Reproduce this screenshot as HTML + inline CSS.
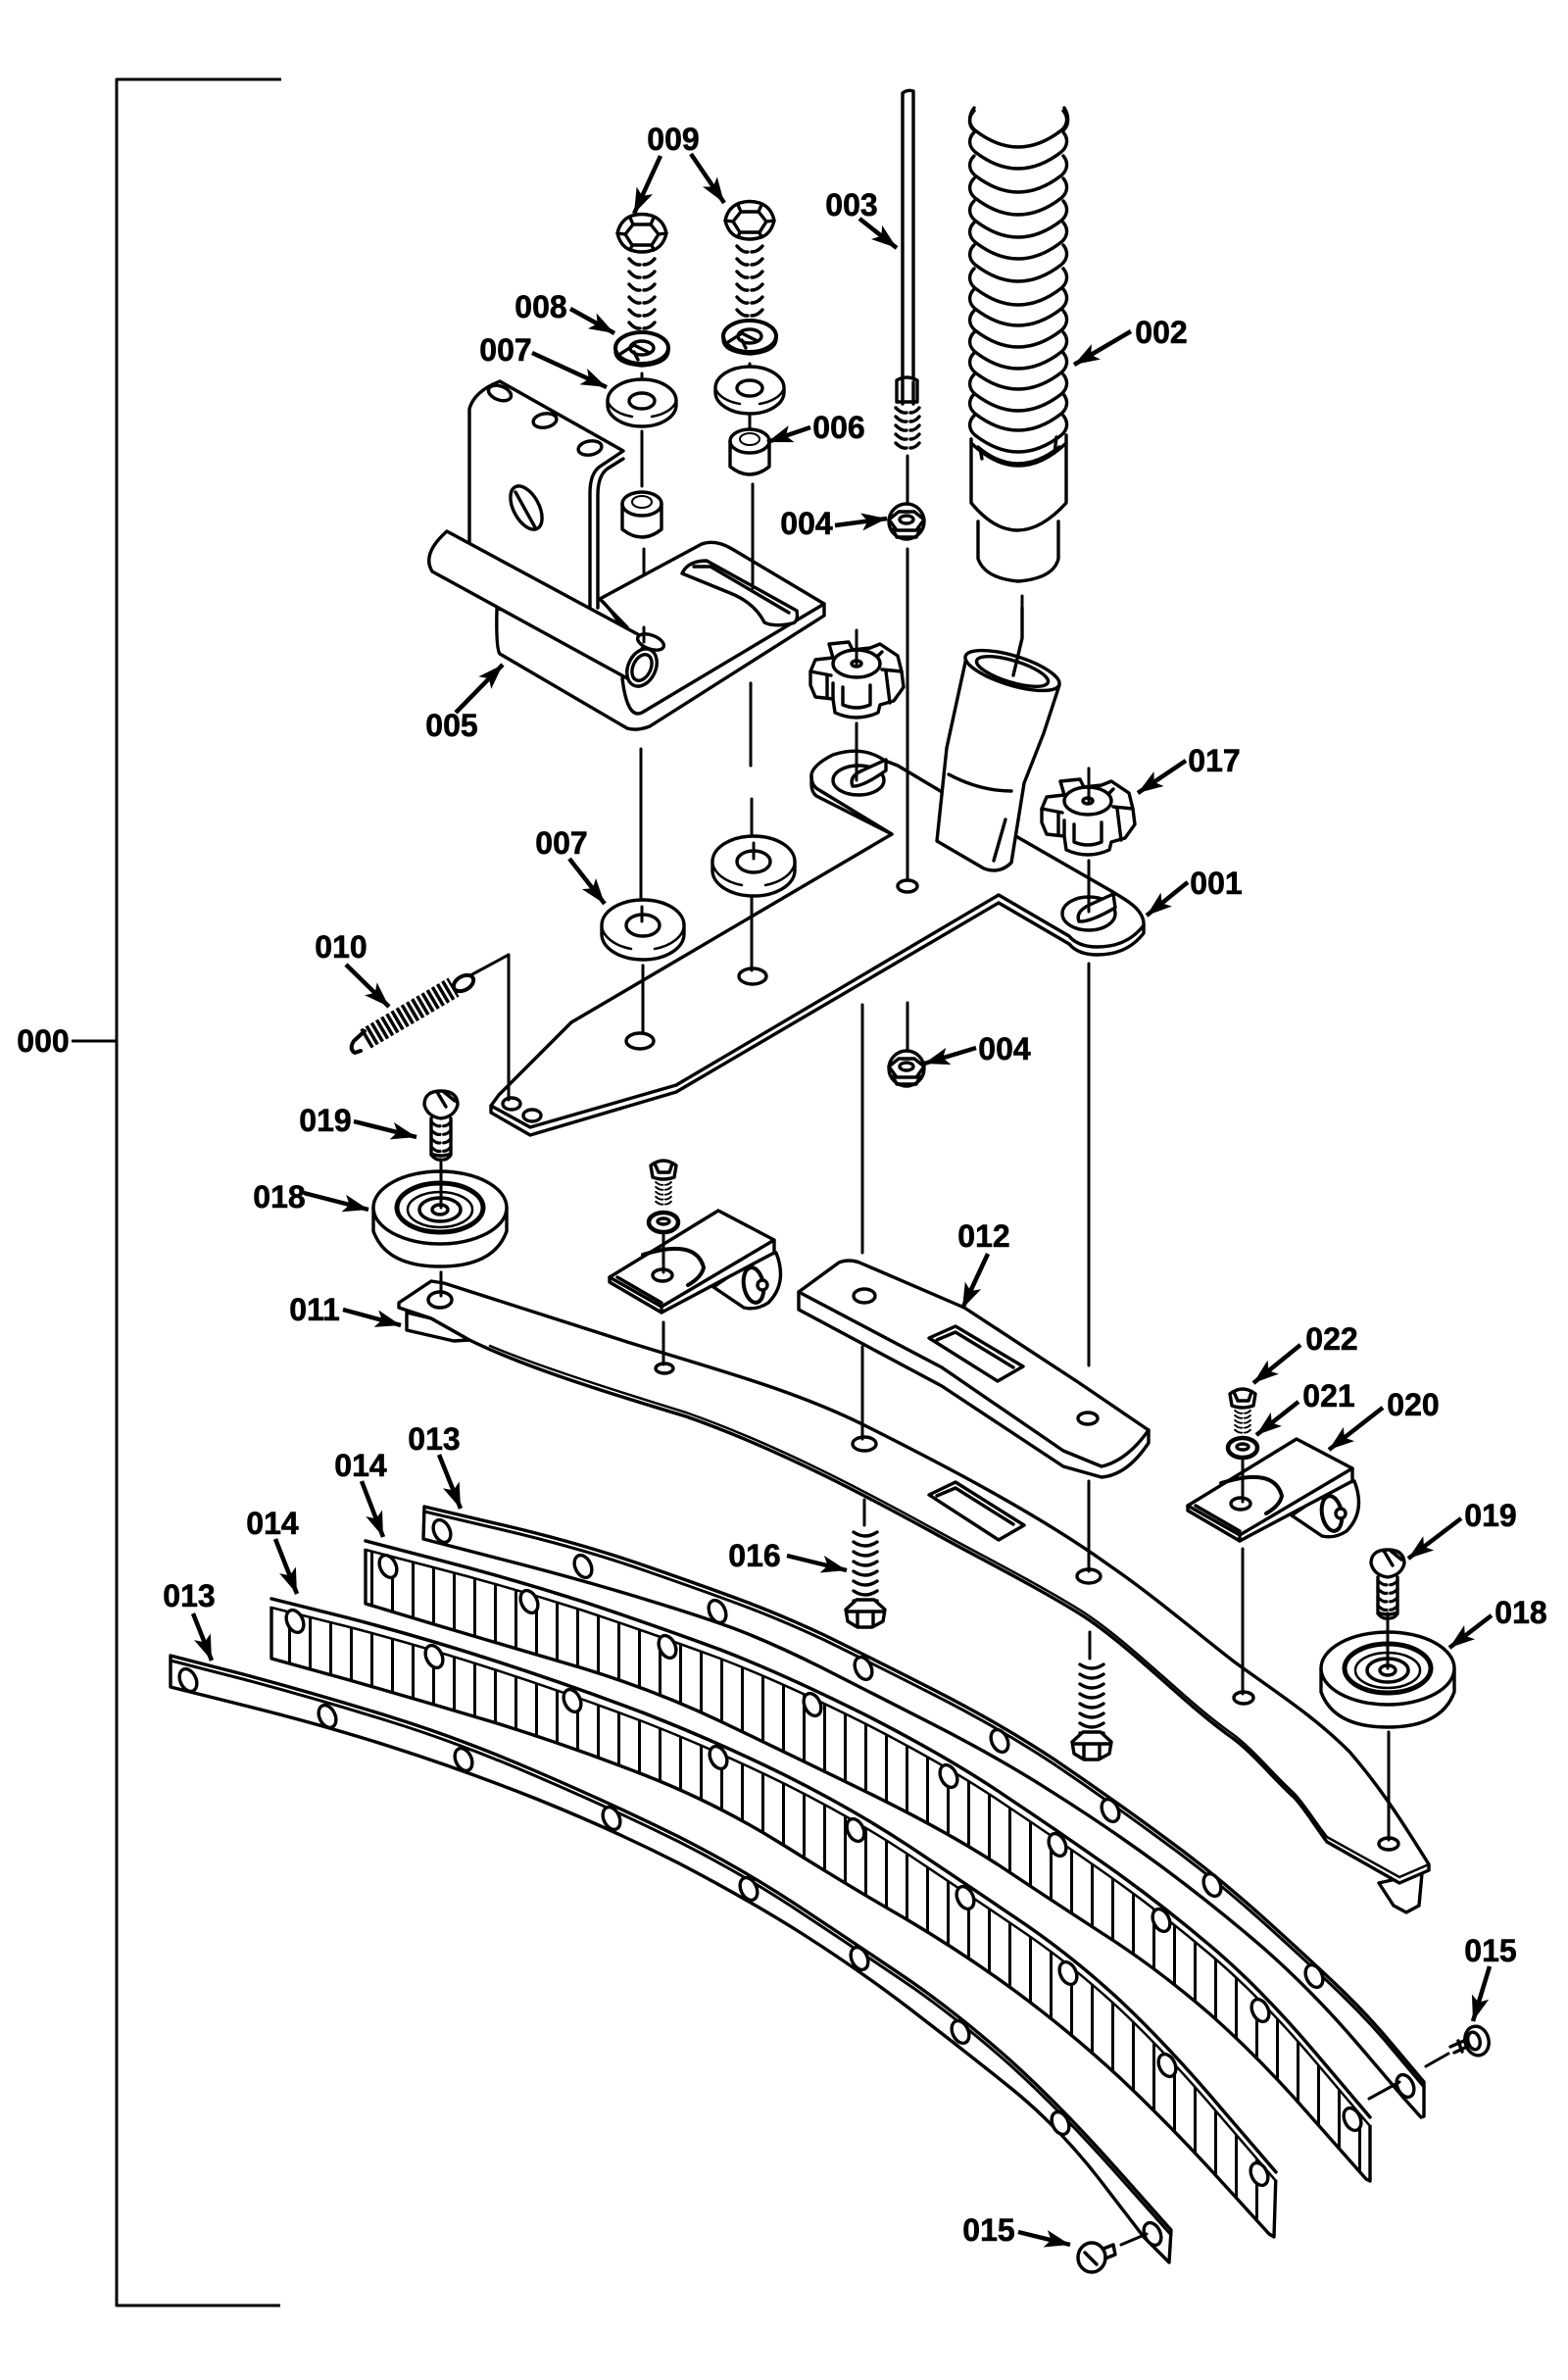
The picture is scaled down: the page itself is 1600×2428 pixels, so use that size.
<!DOCTYPE html>
<html><head><meta charset="utf-8"><style>
html,body{margin:0;padding:0;background:#fff}
svg{display:block}
text{font-family:"Liberation Sans",sans-serif;font-weight:bold;font-size:32px;fill:#000;stroke:#000;stroke-width:.6px;text-anchor:middle}
</style></head><body>
<svg width="1600" height="2428" viewBox="0 0 1600 2428" xmlns="http://www.w3.org/2000/svg">
<defs>
<marker id="ah" markerUnits="userSpaceOnUse" markerWidth="30" markerHeight="20" refX="26" refY="10" orient="auto"><path d="M0,1 L26,10 L0,19 L6,10Z" fill="#000"/></marker>
<pattern id="ribs" width="21" height="20" patternUnits="userSpaceOnUse"><rect width="21" height="20" fill="#fff"/><rect x="0" width="3" height="20" fill="#000"/></pattern>
<path id="rib" d="M994,0 C988,6 988,14 995,20 Q1039,54 1083,20 C1090,14 1090,6 1085,0"/>
<path id="Atop" d="M433,1537 L514,1556 Q595,1575 663,1599 Q732,1623 766,1636 Q800,1649 841,1668 Q882,1688 951,1723 Q1020,1758 1076,1795 Q1132,1833 1185,1872 Q1239,1911 1290,1957 Q1341,2003 1370,2031 Q1400,2060 1426,2092 L1453,2124"/>
<path id="B1top" d="M373,1572 L446,1591 Q520,1610 595,1634 Q670,1659 735,1683 Q800,1708 884,1750 Q968,1793 1024,1831 Q1081,1869 1132,1905 Q1183,1941 1235,1985 Q1287,2029 1342,2094 L1398,2160"/>
<path id="B2top" d="M277,1631 L353,1650 Q430,1670 507,1695 Q584,1720 658,1748 Q732,1777 801,1811 Q871,1846 927,1883 Q984,1921 1037,1957 Q1091,1993 1142,2040 Q1193,2088 1247,2152 L1302,2216"/>
<path id="Ctop" d="M174,1689 L248,1708 Q323,1728 397,1751 Q471,1774 547,1807 Q624,1840 693,1874 Q762,1909 823,1950 Q885,1991 932,2023 Q979,2056 1030,2101 Q1081,2147 1138,2211 L1195,2275"/>
<path id="th5" d="M-12,0 q6,6 11,5 m4,0 q5,0 9,-5 m-24,9 q6,6 11,5 m4,0 q5,0 9,-5 m-24,9 q6,6 11,5 m4,0 q5,0 9,-5 m-24,9 q6,6 11,5 m4,0 q5,0 9,-5 m-24,9 q6,6 11,5 m4,0 q5,0 9,-5"/>
<path id="thB" d="M-13,0 q6,7 11,6 m4,0 q6,0 11,-6 m-26,13 q6,7 11,6 m4,0 q6,0 11,-6 m-26,13 q6,7 11,6 m4,0 q6,0 11,-6 m-26,13 q6,7 11,6 m4,0 q6,0 11,-6 m-26,13 q6,7 11,6 m4,0 q6,0 11,-6 m-26,13 q6,7 11,6 m4,0 q6,0 11,-6"/>
<path id="th8" d="M-12,0 q12,8 24,0 m-24,10 q12,8 24,0 m-24,10 q12,8 24,0 m-24,10 q12,8 24,0 m-24,10 q12,8 24,0 m-24,10 q12,8 24,0 m-24,10 q12,8 24,0 m-24,10 q12,8 24,0"/>
<g id="bolt"><path d="M-25,0 Q-22,-14 -10,-18 Q0,-21 10,-18 Q22,-14 25,0 Q22,12 14,16 Q0,22 -14,16 Q-22,12 -25,0Z" fill="#fff"/><path d="M-17,1 L-9,-9 L9,-9 L17,1 L10,12 L-10,12Z M-25,0 L-17,1 M25,0 L17,1 M-9,-9 L-12,-16 M9,-9 L12,-16 M-10,12 L-12,17 M10,12 L12,17" fill="none"/><use href="#thB" y="26"/></g>
<g id="lock"><ellipse rx="27" ry="16" fill="#fff" stroke-width="4"/><path d="M-27,4 Q-26,16 0,18 Q26,16 27,3" fill="none"/><ellipse rx="12" ry="7" fill="#fff"/><path d="M-22,6 L-8,-3 L8,5 M-4,12 L-8,4" fill="none"/></g>
<g id="wash"><path d="M-35,0 L-35,4 A35,22 0 0 0 35,4 L35,0 A35,22 0 0 0 -35,0Z" fill="#fff"/><path d="M-35,0 A35,20 0 0 0 -10,16 M10,16 A35,20 0 0 0 35,0" fill="none" stroke-width="2.5"/><ellipse rx="13" ry="8" fill="#fff"/></g>
<g id="washL"><path d="M-42,-3 L-42,6 A42,26 0 0 0 42,6 L42,-3 A42,26 0 0 0 -42,-3Z" fill="#fff"/><path d="M-42,-3 A42,26 0 0 0 -12,21 M12,21 A42,26 0 0 0 42,-3" fill="none" stroke-width="2.5"/><ellipse cy="-3" rx="17" ry="11" fill="#fff"/></g>
<g id="bush"><path d="M-20,0 L-20,26 Q0,42 20,26 L20,0 A20,12 0 0 0 -20,0Z" fill="#fff"/><path d="M-20,0 A20,12 0 0 0 20,0" fill="none"/><ellipse cy="-2" rx="10" ry="6" fill="none" stroke-width="2"/></g>
<g id="nut"><circle r="18" fill="#fff"/><path d="M-18,-2 L-8,-10 L8,-10 L18,-2 L10,9 L-10,9Z M-14,8 L-10,16 L10,16 L14,8" fill="none"/><ellipse cy="-2" rx="7" ry="4" fill="none"/></g>
<g id="knob"><path d="M-47,8 L-42,-4 L-24,-6 L-28,-20 L-8,-22 L-4,-14 L14,-16 L24,-20 L42,-8 L46,8 L48,24 L38,38 L24,42 L22,50 Q0,60 -22,50 L-24,36 L-42,34 L-47,22Z" fill="#fff"/><path d="M-47,8 L-26,12 M-30,12 V34 M-24,20 V36 M-14,24 V42 Q0,48 14,42 V22 M26,6 L46,8 M30,8 L34,40 M26,-12 L20,-6" fill="none"/><ellipse rx="24" ry="14" fill="#fff"/><ellipse rx="5" ry="3" fill="#fff"/></g>
<g id="pul"><path d="M-68,0 L-68,24 Q-55,60 0,60 Q55,60 68,24 L68,0Z" fill="#fff"/><ellipse rx="68" ry="37" fill="#fff"/><ellipse rx="44" ry="25" fill="#fff" stroke-width="5"/><ellipse cy="2" rx="33" ry="18" fill="none" stroke-width="2.5"/><ellipse cy="2" rx="21" ry="12" fill="none" stroke-width="3.5"/><ellipse cy="2" rx="8" ry="5" fill="#fff"/></g>
<g id="scr"><path d="M-17,0 Q-17,-14 0,-14 Q17,-14 17,0 Q14,12 0,14 Q-14,12 -17,0Z" fill="#fff"/><path d="M-4,-13 L5,2 M3,-13 L14,-4" fill="none"/><use href="#th5" transform="translate(0,17) scale(.85,.95)"/><path d="M-10,14 L-10,50 Q0,54 10,50 L10,14" fill="none"/></g>
<g id="brk"><path d="M106,10 L137,31 Q150,34 162,26 Q182,6 170,-25 L150,-20Z" fill="#fff"/><ellipse cx="147" cy="8" rx="10" ry="18" fill="#fff" transform="rotate(-10 147 8)" stroke-width="4"/><circle cx="156" cy="8" r="5" fill="#fff"/><path d="M0,0 L111,-68 L168,-38 L168,-25 L53,36 L0,5Z" fill="#fff"/><path d="M8,0 L53,26 M0,0 L53,30 L168,-38 M53,30 V36" fill="none"/><path d="M34,-23 Q88,-40 96,-10 Q94,0 80,8" fill="none" stroke-width="4"/><ellipse cx="54" cy="-2" rx="10" ry="6" fill="#fff"/></g>
<path id="smH" d="M-13,-4 Q0,-14 13,-4 L11,8 Q0,12 -11,8Z M-9,-6 L-5,3 L6,3 L9,-6"/>
<ellipse id="hS" rx="8" ry="12" transform="rotate(-25)"/>
</defs>

<rect width="1600" height="2428" fill="#fff"/>
<g fill="none" stroke="#000" stroke-width="3.4" stroke-linecap="round" stroke-linejoin="round">

<!-- big bracket -->
<path d="M287,81 L119,81 L119,2352 L286,2352 M73,1062 L119,1062" stroke-width="3" stroke-linecap="butt"/>

<!-- axes -->
<path stroke-width="3" d="M655,381V400 M655,440V496 M657,560V650 M654,764V916 M656,985V1054
M765,371V389 M765,424V440 M768,494V600 M766,697V781 M767,815V860 M767,915V985
M926,465V519 M926,560V895 M926,1023V1075
M880,1025V1278 M880,1374V1466 M882,1530V1556
M1111,878V926 M1111,983V1393
M874,643V677 M874,738V791 M1111,784V817
M1043,608V651 L1034,689
M482,994 L519,974 V1114
M450,1183V1221 M450,1298V1316
M1416,1646V1702 M1417,1767V1872"/>

<!-- plate 001 -->
<path fill="#fff" d="M916,781 L1040,855 L1134,909 L1147,917 Q1168,930 1167,944 L1167,952 Q1150,974 1120,974 Q1100,974 1091,963 L1019,921 L690,1114 L541,1158 L501,1135 L501,1128 L509,1117 L583,1043 L910,851 L833,812 Q828,808 828,800 L828,790 Q830,780 850,770 Q880,760 903,776 L916,781Z"/>
<path d="M1167,944 Q1150,966 1120,966 Q1100,966 1091,955 L1019,913 L690,1107 L541,1150 L501,1128 M828,792 Q828,802 836,806 L910,851"/>
<ellipse cx="876" cy="796" rx="26" ry="15" fill="#fff"/>
<path fill="#fff" d="M904,775 L880,786 Q866,792 870,802 Q880,803 904,786Z"/>
<ellipse cx="1111" cy="932" rx="27" ry="17" fill="#fff"/>
<path fill="#fff" d="M1136,912 L1112,923 Q1097,930 1101,940 Q1112,941 1138,926Z"/>
<path stroke-width="3" d="M1111,878V930 M874,738V796 M926,780V897"/>
<ellipse cx="926" cy="904" rx="10" ry="6" fill="#fff"/>
<ellipse cx="522" cy="1126" rx="9" ry="6" fill="#fff"/><ellipse cx="543" cy="1138" rx="9" ry="6" fill="#fff"/>
<ellipse cx="653" cy="1062" rx="14" ry="8" fill="#fff"/><ellipse cx="768" cy="996" rx="14" ry="8" fill="#fff"/>
<path stroke-width="3" d="M519,974V1122 M656,985V1054 M767,915V990"/>

<!-- elbow -->
<path fill="#fff" d="M986,671 Q1040,665 1081,699 L1065,748 L1045,799 L1032,880 Q1020,892 1004,886 L956,858 L966,763Z"/>
<ellipse cx="1033" cy="684" rx="50" ry="15" transform="rotate(17 1033 684)" fill="#fff"/>
<ellipse cx="1033" cy="685" rx="38" ry="11" transform="rotate(17 1033 685)" fill="#fff"/>
<path d="M968,790 Q1000,807 1032,807 M1026,836 L1014,878 M1043,620V651 L1034,689"/>

<!-- hose 002 -->
<path fill="#fff" stroke="none" d="M994,110 H1086 V520 H1081 V575 H998 V520 H992Z"/>
<path d="M994,110 C988,118 988,128 994,133 M1086,110 C1091,118 1091,128 1085,133"/>
<use href="#rib" y="113"/><use href="#rib" y="135"/><use href="#rib" y="159"/><use href="#rib" y="182"/><use href="#rib" y="205"/><use href="#rib" y="227"/><use href="#rib" y="250"/><use href="#rib" y="274"/><use href="#rib" y="295"/><use href="#rib" y="317"/><use href="#rib" y="339"/><use href="#rib" y="360"/><use href="#rib" y="382"/><use href="#rib" y="402"/><use href="#rib" y="424"/>
<path d="M991,448 V513 Q1037,569 1088,513 V444 M991,452 Q1039,498 1088,452 M998,456 Q1038,490 1081,456 M1000,458 L1002,468 M1078,446 L1076,462
M998,532 V570 Q1005,590 1039,593 Q1075,590 1080,570 V532"/>

<!-- rod 003 -->
<path fill="#fff" d="M921,386 L921,95 Q926,91 932,93 L932,386Z"/>
<path fill="#fff" d="M915,388 Q925,382 936,388 L936,410 L915,410Z M921,388 L921,412 M932,390 L932,412"/>
<use href="#th5" x="926" y="416"/>
<use href="#nut" x="925" y="532"/>
<use href="#nut" x="925" y="1090"/>

<!-- bracket 005 -->
<path fill="#fff" d="M479,554 L479,417 Q484,399 510,389 L636,460 L612,476 Q602,483 602,503 L602,629 L600,640 L479,560Z"/>
<path d="M636,468 L620,478 Q610,485 610,505 L610,620"/>
<ellipse cx="510" cy="401" rx="12" ry="7" transform="rotate(20 510 401)" fill="#fff"/>
<ellipse cx="556" cy="429" rx="12" ry="7" transform="rotate(-10 556 429)" fill="#fff"/>
<ellipse cx="602" cy="457" rx="12" ry="7" transform="rotate(-10 602 457)" fill="#fff"/>
<ellipse cx="537" cy="518" rx="13" ry="24" transform="rotate(-28 537 518)" fill="#fff"/>
<path d="M526,502 L546,538"/>
<path fill="#fff" d="M612,611 L716,555 Q730,550 747,560 L841,616 L841,628 L663,741 Q650,746 640,743 L510,667 Q506,662 507,621 L640,640Z"/>
<path d="M841,616 L655,727 Q640,734 635,692 M612,611 Q625,622 640,650"/>
<path fill="#fff" d="M696,585 Q702,572 721,572 L813,623 Q815,635 808,636 Q790,640 780,635 Q770,615 745,605Z"/>
<path d="M708,578 L725,578 L805,625"/>
<path fill="#fff" d="M456,542 L660,652 L640,692 L441,583 Q430,565 456,542Z"/>
<ellipse cx="655" cy="681" rx="14" ry="20" transform="rotate(25 655 681)" fill="#fff"/>
<ellipse cx="655" cy="681" rx="9" ry="14" transform="rotate(25 655 681)"/>
<ellipse cx="664" cy="655" rx="14" ry="7" transform="rotate(20 664 655)" fill="#fff"/>
<path stroke-width="3" d="M657,640V655 M766,697V781 M768,494V600"/>

<!-- small parts column -->
<use href="#bolt" x="655" y="238"/>
<use href="#bolt" x="765" y="225"/>
<use href="#lock" x="655" y="355"/><use href="#lock" x="765" y="343"/>
<use href="#wash" x="655" y="409"/><use href="#wash" x="765" y="396"/>
<use href="#bush" x="655" y="514"/><use href="#bush" x="765" y="450"/>
<use href="#washL" x="656" y="947"/><use href="#washL" x="769" y="882"/>
<path stroke-width="3" d="M655,925V940 M769,860V876"/>

<!-- knobs -->
<use href="#knob" x="874" y="677"/>
<use href="#knob" x="1110" y="817"/>
<path stroke-width="3" d="M874,645V677 M1111,784V817"/>

<!-- spring 010 -->
<path stroke-width="22" stroke-dasharray="3.5 2.5" stroke-linecap="butt" d="M373,1060 L463,1007"/>
<ellipse cx="473" cy="1003" rx="11" ry="7" transform="rotate(-30 473 1003)" fill="#fff" stroke-width="4"/>
<path stroke-width="4" d="M372,1052 L361,1062 Q356,1070 362,1074 L368,1072"/>

<!-- bar 011 -->
<path fill="#fff" d="M415,1339 L415,1357 L463,1368 L479,1367 L440,1345Z"/>
<path fill="#fff" d="M1407,1921 L1451,1911 L1448,1944 L1435,1951 L1422,1944Z"/>
<path fill="#fff" d="M453,1309 L640,1369 C730,1397 810,1418 882,1454 C960,1493 1060,1545 1132,1597 C1180,1630 1220,1665 1259,1695 C1300,1725 1340,1750 1377,1787 C1410,1825 1435,1865 1458,1902 L1458,1908 L1428,1921 L1354,1879 C1340,1860 1330,1843 1320,1833 C1300,1815 1280,1790 1259,1774 C1210,1740 1160,1685 1106,1649 C1060,1620 1000,1590 953,1564 C900,1535 800,1480 700,1445 C600,1415 530,1392 479,1367 L440,1345 L407,1334 L407,1329 L440,1307Z"/>
<path stroke-width="2.5" d="M500,1373 C540,1390 600,1410 700,1441 C800,1476 900,1531 953,1560 C1000,1586 1060,1616 1106,1645 C1160,1681 1210,1736 1259,1770 C1280,1786 1300,1811 1320,1829 C1330,1839 1340,1856 1354,1874 L1428,1915 L1458,1902"/>
<path d="M948,1525 L975,1512 L1045,1556 L1019,1571Z M956,1526 L975,1518 L1034,1555"/>
<ellipse cx="449" cy="1326" rx="12" ry="8" fill="#fff"/>
<ellipse cx="678" cy="1396" rx="9" ry="5" fill="#fff"/>
<ellipse cx="882" cy="1473" rx="12" ry="7" fill="#fff"/>
<ellipse cx="1111" cy="1608" rx="12" ry="7" fill="#fff"/>
<ellipse cx="1269" cy="1732" rx="10" ry="6" fill="#fff"/>
<ellipse cx="1417" cy="1881" rx="10" ry="6" fill="#fff"/>
<path stroke-width="3" d="M450,1298V1322 M677,1349V1392 M880,1374V1468 M1111,1511V1603 M1268,1580V1728 M1417,1767V1877 M1112,1665V1692"/>

<!-- plate 012 -->
<path fill="#fff" d="M815,1318 L856,1288 Q866,1284 877,1288 L984,1334 L1100,1410 L1172,1459 L1172,1472 Q1150,1505 1124,1507 L1085,1496 L961,1414 L815,1336Z"/>
<path d="M815,1318 L961,1395 L1085,1480 L1124,1496 Q1150,1490 1172,1459"/>
<path d="M948,1365 L975,1353 L1044,1394 L1018,1409Z M956,1367 L975,1359 L1034,1395"/>
<ellipse cx="882" cy="1322" rx="11" ry="7" fill="#fff"/>
<ellipse cx="1110" cy="1447" rx="10" ry="6" fill="#fff"/>

<!-- brackets -->
<use href="#brk" x="622" y="1303"/>
<use href="#brk" x="1212" y="1536"/>
<path stroke-width="3" d="M677,1257V1298 M1268,1490V1532"/>
<use href="#smH" x="677" y="1193" fill="#fff"/>
<use href="#th5" transform="translate(677,1206) scale(.65,.55)"/>
<ellipse cx="677" cy="1247" rx="15" ry="10" fill="#fff" stroke-width="4.5"/><ellipse cx="677" cy="1246" rx="6" ry="3" fill="#fff"/>
<use href="#smH" x="1268" y="1426" fill="#fff"/>
<use href="#th5" transform="translate(1268,1439) scale(.65,.55)"/>
<ellipse cx="1268" cy="1477" rx="15" ry="10" fill="#fff" stroke-width="4.5"/><ellipse cx="1268" cy="1476" rx="6" ry="3" fill="#fff"/>

<!-- pulleys + screws -->
<use href="#pul" x="449" y="1232"/>
<use href="#pul" x="1416" y="1702"/>
<use href="#scr" x="450" y="1127"/>
<use href="#scr" x="1416" y="1595"/>
<path stroke-width="3" d="M450,1183V1232 M1416,1646V1702"/>

<!-- bolts 016 -->
<g id="b16"><use href="#th8" transform="translate(883,1563)"/><path fill="#fff" d="M863,1642 L874,1632 L892,1632 L903,1642 L901,1654 L890,1660 L875,1660 L865,1654Z M866,1644 L900,1644 M875,1645V1658 M891,1645V1658"/></g>
<use href="#b16" transform="translate(231,135)"/>

<!-- strip A -->
<path fill="#fff" d="M433,1537 L514,1556 Q595,1575 663,1599 Q732,1623 766,1636 Q800,1649 841,1668 Q882,1688 951,1723 Q1020,1758 1076,1795 Q1132,1833 1185,1872 Q1239,1911 1290,1957 Q1341,2003 1370,2031 Q1400,2060 1426,2092 L1453,2124 L1453,2159 L1450,2160 L1433,2141 L1387,2087 Q1341,2033 1290,1988 Q1239,1944 1185,1904 Q1132,1865 1075,1829 Q1019,1793 948,1757 Q877,1721 838,1701 Q800,1682 766,1668 Q732,1654 663,1633 Q595,1612 513,1591 L432,1570Z"/>
<use href="#Atop" y="5" stroke-width="3"/>
<!-- strip B1 -->
<path fill="url(#ribs)" d="M373,1572 L446,1591 Q520,1610 595,1634 Q670,1659 735,1683 Q800,1708 884,1750 Q968,1793 1024,1831 Q1081,1869 1132,1905 Q1183,1941 1235,1985 Q1287,2029 1342,2094 L1398,2160 L1398,2225 L1394,2223 L1340,2162 Q1287,2101 1235,2055 Q1183,2010 1132,1977 Q1081,1944 1024,1906 Q968,1869 884,1828 Q800,1787 735,1756 Q670,1725 595,1702 Q520,1680 446,1658 L373,1636Z"/>
<use href="#B1top" y="4" stroke="#fff" stroke-width="8"/>
<use href="#B1top" y="9" stroke-width="2.5"/>
<use href="#B1top"/>
<!-- strip B2 -->
<path fill="url(#ribs)" d="M277,1631 L353,1650 Q430,1670 507,1695 Q584,1720 658,1748 Q732,1777 801,1811 Q871,1846 927,1883 Q984,1921 1037,1957 Q1091,1993 1142,2040 Q1193,2088 1247,2152 L1302,2216 L1300,2282 L1295,2279 L1244,2223 Q1193,2167 1142,2119 Q1091,2072 1037,2032 Q984,1993 925,1958 Q866,1924 799,1882 Q732,1840 658,1811 Q584,1782 507,1758 Q430,1735 353,1713 L277,1692Z"/>
<use href="#B2top" y="4" stroke="#fff" stroke-width="8"/>
<use href="#B2top" y="9" stroke-width="2.5"/>
<use href="#B2top"/>
<!-- strip C -->
<path fill="#fff" d="M174,1689 L248,1708 Q323,1728 397,1751 Q471,1774 547,1807 Q624,1840 693,1874 Q762,1909 823,1950 Q885,1991 932,2023 Q979,2056 1030,2101 Q1081,2147 1138,2211 L1195,2275 L1193,2308 L1167,2282 L1124,2226 Q1081,2170 1030,2129 Q979,2088 928,2049 Q877,2010 819,1973 Q762,1937 693,1901 Q624,1866 547,1835 Q471,1805 402,1783 Q334,1761 254,1741 L174,1721Z"/>
<use href="#Ctop" y="5" stroke-width="3"/>

<!-- strip holes -->
<g fill="#fff">
<use href="#hS" x="451" y="1562"/><use href="#hS" x="595" y="1598"/><use href="#hS" x="732" y="1644"/><use href="#hS" x="881" y="1702"/><use href="#hS" x="1020" y="1776"/><use href="#hS" x="1133" y="1847"/><use href="#hS" x="1237" y="1923"/><use href="#hS" x="1341" y="2016"/><use href="#hS" x="1434" y="2128"/>
<use href="#hS" x="396" y="1598"/><use href="#hS" x="540" y="1634"/><use href="#hS" x="681" y="1680"/><use href="#hS" x="829" y="1739"/><use href="#hS" x="968" y="1812"/><use href="#hS" x="1079" y="1882"/><use href="#hS" x="1185" y="1959"/><use href="#hS" x="1286" y="2051"/><use href="#hS" x="1380" y="2162"/>
<use href="#hS" x="301" y="1654"/><use href="#hS" x="443" y="1690"/><use href="#hS" x="584" y="1735"/><use href="#hS" x="733" y="1793"/><use href="#hS" x="873" y="1867"/><use href="#hS" x="985" y="1936"/><use href="#hS" x="1090" y="2013"/><use href="#hS" x="1191" y="2107"/><use href="#hS" x="1285" y="2218"/>
<use href="#hS" x="192" y="1714"/><use href="#hS" x="334" y="1751"/><use href="#hS" x="473" y="1795"/><use href="#hS" x="624" y="1855"/><use href="#hS" x="764" y="1927"/><use href="#hS" x="877" y="1998"/><use href="#hS" x="980" y="2073"/><use href="#hS" x="1082" y="2166"/><use href="#hS" x="1176" y="2279"/>
</g>

<!-- 015 screws -->
<path stroke-width="3" d="M1397,2141 L1428,2124 M1455,2108 L1478,2095 M1144,2290 L1170,2279"/>
<ellipse cx="1507" cy="2082" rx="12" ry="15" fill="#fff" transform="rotate(-15 1507 2082)"/>
<ellipse cx="1504" cy="2082" rx="6" ry="9" fill="#fff" transform="rotate(-15 1504 2082)"/>
<path d="M1480,2088 L1496,2081 M1484,2094 L1497,2088 M1488,2082 L1492,2093"/>
<ellipse cx="1114" cy="2303" rx="14" ry="15" fill="#fff" stroke-width="3.5"/>
<path d="M1107,2298 L1119,2310 M1126,2294 L1136,2290 L1138,2300 L1128,2304"/>

<!-- arrows -->
<g marker-end="url(#ah)" stroke-width="4.5" stroke-linecap="butt">
<path d="M674,159 L647,218"/><path d="M705,157 L739,207"/><path d="M877,223 L915,253"/><path d="M582,315 L627,340"/><path d="M543,360 L619,395"/><path d="M827,436 L783,451"/><path d="M852,536 L905,529"/><path d="M1154,338 L1096,372"/><path d="M465,727 L513,678"/><path d="M581,876 L617,922"/><path d="M1210,776 L1161,809"/><path d="M1212,900 L1170,934"/><path d="M996,1069 L943,1085"/><path d="M1008,1279 L982,1335"/><path d="M1327,1372 L1279,1411"/><path d="M353,984 L397,1027"/><path d="M361,1144 L425,1160"/><path d="M310,1217 L376,1234"/><path d="M350,1336 L409,1352"/><path d="M448,1484 L470,1539"/><path d="M369,1511 L391,1568"/><path d="M803,1587 L864,1602"/><path d="M281,1570 L303,1626"/><path d="M197,1646 L216,1694"/><path d="M1325,1430 L1282,1464"/><path d="M1411,1436 L1356,1479"/><path d="M1491,1549 L1437,1590"/><path d="M1522,1648 L1479,1681"/><path d="M1520,2006 L1503,2062"/><path d="M1039,2277 L1092,2290"/>
</g>
</g>

<!-- labels -->
<text x="44" y="1073">000</text>
<text x="687" y="153">009</text>
<text x="869" y="220">003</text>
<text x="552" y="324">008</text>
<text x="516" y="368">007</text>
<text x="856" y="447">006</text>
<text x="823" y="545">004</text>
<text x="1185" y="350">002</text>
<text x="461" y="751">005</text>
<text x="573" y="871">007</text>
<text x="1239" y="787">017</text>
<text x="1241" y="912">001</text>
<text x="1025" y="1081">004</text>
<text x="1004" y="1272">012</text>
<text x="1359" y="1377">022</text>
<text x="348" y="977">010</text>
<text x="332" y="1154">019</text>
<text x="285" y="1232">018</text>
<text x="321" y="1347">011</text>
<text x="443" y="1479">013</text>
<text x="368" y="1506">014</text>
<text x="770" y="1598">016</text>
<text x="278" y="1565">014</text>
<text x="193" y="1639">013</text>
<text x="1356" y="1435">021</text>
<text x="1442" y="1444">020</text>
<text x="1521" y="1557">019</text>
<text x="1552" y="1656">018</text>
<text x="1521" y="2001">015</text>
<text x="1009" y="2286">015</text>
</svg>
</body></html>
